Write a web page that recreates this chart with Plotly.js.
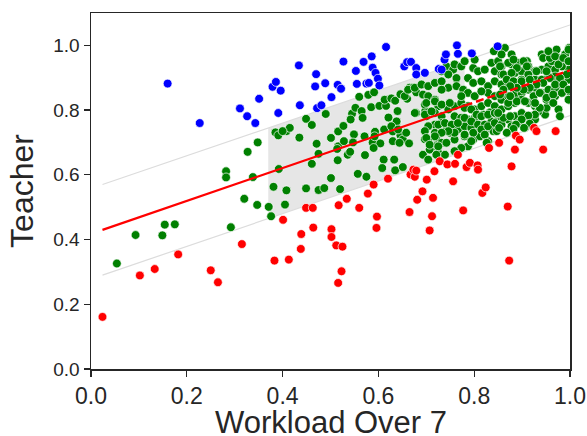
<!DOCTYPE html>
<html>
<head>
<meta charset="utf-8">
<script src="https://cdn.plot.ly/plotly-3.0.1.min.js"></script>
<style>
html,body{margin:0;padding:0;background:#fff;}
#chart{width:587px;height:436px;}
</style>
</head>
<body>
<div id="chart"></div>
<script>
// ---- data ----
const blueX = [0.160,0.227,0.311,0.326,0.343,0.351,0.379,0.386,0.396,0.391,0.434,0.436,0.470,0.472,0.481,0.468,0.489,0.502,0.515,0.522,0.527,0.553,0.555,0.569,0.575,0.580,0.586,0.588,0.594,0.599,0.602,0.616,0.654,0.660,0.668,0.679,0.679,0.697,0.738,0.741,0.764,0.766,0.795,0.849,0.726,0.732];
const blueY = [0.882,0.760,0.805,0.781,0.760,0.835,0.872,0.887,0.860,0.791,0.938,0.815,0.911,0.806,0.815,0.873,0.883,0.840,0.878,0.866,0.950,0.921,0.881,0.949,0.882,0.884,0.966,0.931,0.915,0.897,0.876,0.995,0.935,0.948,0.949,0.930,0.910,0.915,0.956,0.972,1.000,0.974,0.975,0.997,0.927,0.925];

const redX = [0.024,0.102,0.133,0.182,0.250,0.265,0.315,0.383,0.401,0.413,0.438,0.439,0.449,0.463,0.464,0.502,0.502,0.512,0.516,0.517,0.523,0.525,0.534,0.560,0.578,0.590,0.596,0.597,0.620,0.665,0.667,0.673,0.676,0.679,0.681,0.692,0.701,0.707,0.712,0.714,0.717,0.728,0.744,0.756,0.760,0.766,0.777,0.784,0.791,0.807,0.808,0.817,0.824,0.831,0.852,0.870,0.873,0.878,0.885,0.887,0.895,0.925,0.930,0.944,0.970];
const redY = [0.161,0.289,0.309,0.354,0.305,0.268,0.386,0.335,0.461,0.338,0.371,0.417,0.498,0.498,0.437,0.432,0.408,0.382,0.266,0.506,0.302,0.378,0.526,0.498,0.542,0.570,0.436,0.471,0.588,0.485,0.601,0.616,0.594,0.613,0.523,0.549,0.585,0.428,0.472,0.529,0.611,0.642,0.632,0.580,0.634,0.662,0.490,0.624,0.637,0.629,0.616,0.544,0.561,0.683,0.699,0.502,0.335,0.626,0.678,0.721,0.709,0.745,0.735,0.678,0.735];

const greenX = [
0.054,0.093,0.149,0.154,0.175,0.282,0.282,0.292,0.320,0.327,0.338,0.347,0.348,0.371,0.376,0.381,0.392,0.405,0.408,0.385,0.391,0.408,0.415,0.400,0.435,
0.449,0.461,0.490,0.471,0.501,0.516,0.527,0.516,0.545,0.552,0.565,0.567,0.560,0.579,0.591,0.585,0.602,0.616,0.613,0.627,0.635,0.646,0.665,0.672,0.679,0.693,0.660,0.640,0.621,0.679,0.698,0.549,0.593,0.612,0.630,0.637,0.638,0.646,0.630,0.651,0.664,0.697,0.528,0.547,0.588,0.604,
0.514,0.515,0.475,0.461,0.536,0.541,0.572,0.590,0.611,0.633,0.608,0.635,0.651,0.693,0.557,0.575,0.501,0.449,0.475,0.487,0.520,
0.592,0.658,0.627,0.641,0.644,0.676,0.655,0.662,0.676,0.542,0.571,
0.690,0.704,0.718,0.732,0.732,0.742,0.756,0.759,0.773,0.780,0.746,0.763,0.704,0.718,0.725,0.697,0.718,0.732,0.700,0.746,0.746,0.732,0.732,0.718,0.704,0.697,0.718,0.739,0.704,0.721,0.718,0.732,0.725,0.707,
0.763,0.777,0.787,0.798,0.798,0.801,0.808,0.815,0.759,0.773,0.787,0.801,0.759,0.773,0.787,0.801,0.787,0.773,0.801,0.749,0.766,0.780,0.794,0.759,0.780,0.798,0.787,0.808,
0.700,0.718,0.732,0.749,0.780,0.794,0.805,0.819,0.833,0.847,0.697,0.711,0.725,0.739,0.753,0.766,0.780,0.794,0.808,0.822,0.836,0.850,0.840,0.822,0.829,0.812,0.798,0.794,0.780,0.759,0.746,0.732,0.718,0.700,0.707,0.725,0.742,0.773,0.759,0.739,0.721,0.704,
0.822,0.836,0.841,0.850,0.857,0.864,0.878,0.878,0.843,0.857,0.871,0.885,0.829,0.843,0.857,0.871,0.885,0.829,0.843,0.857,0.871,0.885,0.815,0.815,0.829,0.843,0.857,0.871,0.885,0.815,0.829,0.843,0.857,0.871,0.885,0.815,0.829,0.843,0.857,0.878,0.822,0.826,0.847,
0.892,0.910,0.913,0.899,0.927,0.941,0.955,0.941,0.955,0.899,0.913,0.927,0.941,0.955,0.899,0.913,0.927,0.941,0.955,0.899,0.913,0.927,0.941,0.948,0.899,0.913,0.934,0.927,0.892,0.906,0.916,
0.972,0.998,0.962,0.976,0.990,0.998,0.997,0.983,0.969,0.986,0.969,0.997,0.983,0.969,0.998,0.969,0.983,0.976,0.979,
0.951,0.927,0.913,0.916,0.899,0.904,0.887,0.882,0.868,0.852,0.861,0.875,0.850,0.871,0.889,0.906,0.924,0.951,0.937,
0.857,0.871,0.882,0.854,0.889,0.903,0.910,0.861,0.878,0.868,0.882,0.899,0.916,0.930,0.944,0.958,0.955,0.969,0.976,0.986,0.997,0.997,0.993,0.979,0.958,0.951,0.944,0.930,0.916,0.903,0.889,0.875,0.861,0.854,0.875,0.924,0.937,0.951,0.965,0.969,0.986,0.983,0.997,0.997,0.927,0.965
];
const greenY = [
0.326,0.414,0.413,0.446,0.447,0.611,0.592,0.438,0.526,0.671,0.593,0.507,0.700,0.501,0.472,0.563,0.618,0.508,0.552,0.731,0.722,0.735,0.745,0.735,0.715,
0.773,0.754,0.788,0.696,0.714,0.734,0.751,0.688,0.789,0.807,0.797,0.776,0.841,0.847,0.855,0.809,0.813,0.813,0.832,0.836,0.829,0.849,0.869,0.869,0.855,0.848,0.835,0.797,0.777,0.791,0.798,0.725,0.733,0.740,0.734,0.756,0.765,0.722,0.704,0.709,0.697,0.710,0.704,0.700,0.700,0.697,
0.680,0.645,0.665,0.634,0.662,0.671,0.661,0.683,0.647,0.647,0.621,0.614,0.624,0.662,0.603,0.594,0.590,0.558,0.553,0.559,0.556,
0.719,0.730,0.750,0.740,0.699,0.791,0.843,0.863,0.869,0.771,0.719,
0.879,0.874,0.884,0.889,0.920,0.935,0.925,0.941,0.935,0.951,0.910,0.899,0.843,0.832,0.812,0.817,0.791,0.781,0.781,0.802,0.869,0.863,0.760,0.755,0.750,0.735,0.730,0.735,0.709,0.714,0.688,0.699,0.668,0.678,
0.874,0.863,0.899,0.884,0.930,0.956,0.920,0.889,0.812,0.822,0.812,0.802,0.781,0.776,0.771,0.776,0.853,0.843,0.843,0.730,0.740,0.750,0.745,0.709,0.719,0.709,0.688,0.730,
0.822,0.827,0.817,0.822,0.807,0.802,0.786,0.786,0.793,0.791,0.786,0.796,0.755,0.760,0.755,0.760,0.776,0.765,0.755,0.755,0.765,0.771,0.735,0.730,0.704,0.719,0.730,0.704,0.724,0.730,0.735,0.730,0.719,0.714,0.693,0.688,0.699,0.683,0.673,0.662,0.662,0.647,
0.925,0.946,0.982,0.951,0.935,0.992,0.972,0.941,0.920,0.910,0.904,0.915,0.874,0.889,0.879,0.874,0.884,0.853,0.843,0.832,0.843,0.848,0.858,0.812,0.822,0.812,0.802,0.812,0.822,0.781,0.786,0.791,0.776,0.771,0.781,0.740,0.750,0.760,0.755,0.750,0.724,0.699,0.735,
0.946,0.951,0.935,0.920,0.920,0.972,0.977,0.925,0.935,0.894,0.910,0.894,0.894,0.904,0.853,0.863,0.869,0.853,0.863,0.832,0.822,0.812,0.802,0.786,0.791,0.781,0.796,0.771,0.760,0.745,0.755,
0.987,0.992,0.951,0.961,0.972,0.951,0.925,0.935,0.925,0.894,0.904,0.894,0.874,0.863,0.858,0.843,0.853,0.802,0.781,
0.807,0.786,0.783,0.758,0.771,0.745,0.755,0.742,0.730,0.745,0.776,0.781,0.791,0.822,0.827,0.827,0.822,0.832,0.807,
0.972,0.946,0.956,0.935,0.930,0.951,0.935,0.910,0.915,0.894,0.889,0.889,0.894,0.920,0.961,0.961,0.982,0.966,0.941,0.961,0.987,0.951,0.910,0.899,0.899,0.920,0.884,0.879,0.869,0.863,0.869,0.874,0.863,0.848,0.843,0.843,0.853,0.838,0.848,0.879,0.879,0.853,0.863,0.832,0.822,0.822
];

// regression line (solid part, dashed extension) and its +/- band
const regSolidX = [0.024, 0.78];
const regSolidY = [0.430, 0.814];
const regDashX = [0.78, 1.0];
const regDashY = [0.814, 0.923];
const upperX = [0.024, 1.0];
const upperY = [0.570, 1.063];
const lowerX = [0.024, 1.0];
const lowerY = [0.290, 0.783];
const bandX = [0.37, 0.78];
const bandLow = [0.465, 0.672];
const bandHigh = [0.745, 0.952];

const xTitle = 'Workload Over 7';
const yTitle = 'Teacher';

const ink = '#262626';
const font = 'Liberation Sans, Arial, sans-serif';
const mk = (c) => ({color: c, size: 8.8, line: {color: '#ffffff', width: 0.7}});

const traces = [
  {x: bandX, y: bandLow, mode: 'lines', line: {width: 0, color: 'rgba(0,0,0,0)'}, hoverinfo: 'skip', showlegend: false},
  {x: bandX, y: bandHigh, mode: 'lines', fill: 'tonexty', fillcolor: '#e6e6e6', line: {width: 0, color: 'rgba(0,0,0,0)'}, hoverinfo: 'skip', showlegend: false},
  {x: upperX, y: upperY, mode: 'lines', line: {color: '#dcdcdc', width: 1.2}, showlegend: false},
  {x: lowerX, y: lowerY, mode: 'lines', line: {color: '#dcdcdc', width: 1.2}, showlegend: false},
  {x: greenX, y: greenY, mode: 'markers', marker: mk('#008000'), showlegend: false},
  {x: blueX, y: blueY, mode: 'markers', marker: mk('#0000ff'), showlegend: false},
  {x: redX, y: redY, mode: 'markers', marker: mk('#ff0000'), showlegend: false},
  {x: regSolidX, y: regSolidY, mode: 'lines', line: {color: '#ff0000', width: 2.2}, showlegend: false},
  {x: regDashX, y: regDashY, mode: 'lines', line: {color: '#ff0000', width: 2.4, dash: '8px,4px'}, showlegend: false}
];

const axisBase = {
  showgrid: false, zeroline: false,
  showline: true, mirror: true, linecolor: ink, linewidth: 1.5,
  ticks: 'outside', ticklen: 6, tickwidth: 1.3, tickcolor: ink,
  tickformat: '.1f', dtick: 0.2, tick0: 0
};

const layout = {
  width: 587, height: 436,
  margin: {l: 91, r: 17, t: 13, b: 67},
  paper_bgcolor: '#ffffff', plot_bgcolor: '#ffffff',
  font: {family: font, color: ink},
  xaxis: Object.assign({}, axisBase, {
    range: [0, 1.0],
    tickfont: {size: 23, family: font, color: ink}
  }),
  yaxis: Object.assign({}, axisBase, {
    range: [0, 1.1],
    tickfont: {size: 19, family: font, color: ink},
    title: {text: yTitle, font: {size: 32, family: font, color: ink}, standoff: 10}
  }),
  annotations: [{
    text: xTitle, xref: 'paper', yref: 'paper', x: 0.5, y: 0,
    xanchor: 'center', yanchor: 'middle', yshift: -53, showarrow: false,
    font: {size: 31, family: font, color: ink}
  }],
  showlegend: false
};

Plotly.newPlot('chart', traces, layout, {staticPlot: true, displayModeBar: false});
</script>
</body>
</html>
